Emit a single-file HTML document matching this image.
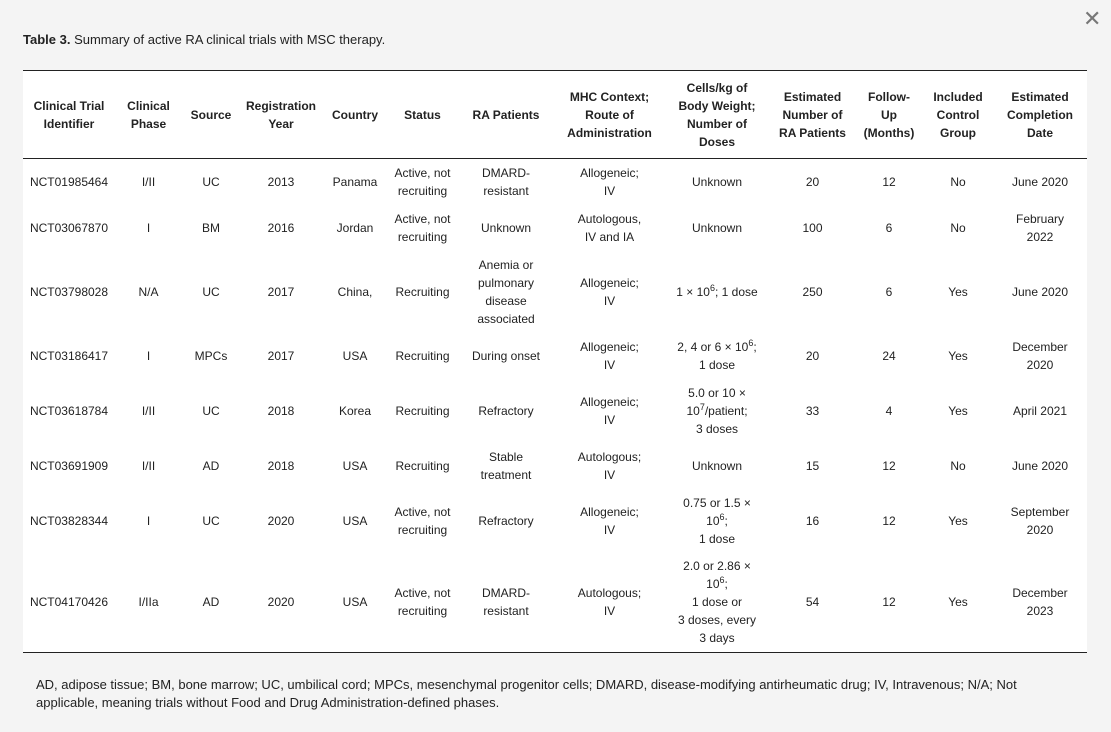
<!DOCTYPE html>
<html><head><meta charset="utf-8"><style>
body{margin:0;width:1111px;height:732px;background:#f4f4f4;font-family:"Liberation Sans",Arial,sans-serif;color:#222;position:relative;overflow:hidden}
.x{position:absolute;left:1083px;top:6px;font-size:22px;color:#777}
.title{position:absolute;left:23px;top:32px;font-size:13px}
table{position:absolute;left:23px;top:70px;width:1064px;border-collapse:collapse;background:#fff;font-size:12px;line-height:18px;table-layout:fixed}
th{font-weight:bold;border-top:1px solid #222;border-bottom:1px solid #222;height:87px;padding:0 2px;text-align:center;vertical-align:middle}
td{text-align:center;vertical-align:middle;padding:0 4px}
tr:last-child td{border-bottom:1px solid #222}
sup{font-size:9px;line-height:0;vertical-align:5px}
.foot{position:absolute;left:36px;top:676px;width:1030px;font-size:13px;line-height:18px}
</style></head><body>
<div class="x">✕</div>
<div class="title"><b>Table 3.</b> Summary of active RA clinical trials with MSC therapy.</div>
<table>
<colgroup><col style="width:92px"><col style="width:67px"><col style="width:58px"><col style="width:82px"><col style="width:66px"><col style="width:69px"><col style="width:98px"><col style="width:109px"><col style="width:106px"><col style="width:85px"><col style="width:68px"><col style="width:70px"><col style="width:94px"></colgroup>
<tr><th>Clinical Trial<br>Identifier</th><th>Clinical<br>Phase</th><th>Source</th><th>Registration<br>Year</th><th>Country</th><th>Status</th><th>RA Patients</th><th>MHC Context;<br>Route of<br>Administration</th><th>Cells/kg of<br>Body Weight;<br>Number of<br>Doses</th><th>Estimated<br>Number of<br>RA Patients</th><th>Follow-<br>Up<br>(Months)</th><th>Included<br>Control<br>Group</th><th>Estimated<br>Completion<br>Date</th></tr>
<tr style="height:46px"><td>NCT01985464</td><td>I/II</td><td>UC</td><td>2013</td><td>Panama</td><td>Active, not recruiting</td><td>DMARD-resistant</td><td>Allogeneic;<br>IV</td><td>Unknown</td><td>20</td><td>12</td><td>No</td><td>June 2020</td></tr>
<tr style="height:46px"><td>NCT03067870</td><td>I</td><td>BM</td><td>2016</td><td>Jordan</td><td>Active, not recruiting</td><td>Unknown</td><td>Autologous,<br>IV and IA</td><td>Unknown</td><td>100</td><td>6</td><td>No</td><td>February<br>2022</td></tr>
<tr style="height:82px"><td>NCT03798028</td><td>N/A</td><td>UC</td><td>2017</td><td>China,</td><td>Recruiting</td><td>Anemia or pulmonary disease associated</td><td>Allogeneic;<br>IV</td><td>1 × 10<sup>6</sup>; 1 dose</td><td>250</td><td>6</td><td>Yes</td><td>June 2020</td></tr>
<tr style="height:46px"><td>NCT03186417</td><td>I</td><td>MPCs</td><td>2017</td><td>USA</td><td>Recruiting</td><td>During onset</td><td>Allogeneic;<br>IV</td><td>2, 4 or 6 × 10<sup>6</sup>;<br>1 dose</td><td>20</td><td>24</td><td>Yes</td><td>December<br>2020</td></tr>
<tr style="height:64px"><td>NCT03618784</td><td>I/II</td><td>UC</td><td>2018</td><td>Korea</td><td>Recruiting</td><td>Refractory</td><td>Allogeneic;<br>IV</td><td>5.0 or 10 ×<br>10<sup>7</sup>/patient;<br>3 doses</td><td>33</td><td>4</td><td>Yes</td><td>April 2021</td></tr>
<tr style="height:46px"><td>NCT03691909</td><td>I/II</td><td>AD</td><td>2018</td><td>USA</td><td>Recruiting</td><td>Stable<br>treatment</td><td>Autologous;<br>IV</td><td>Unknown</td><td>15</td><td>12</td><td>No</td><td>June 2020</td></tr>
<tr style="height:64px"><td>NCT03828344</td><td>I</td><td>UC</td><td>2020</td><td>USA</td><td>Active, not recruiting</td><td>Refractory</td><td>Allogeneic;<br>IV</td><td>0.75 or 1.5 ×<br>10<sup>6</sup>;<br>1 dose</td><td>16</td><td>12</td><td>Yes</td><td>September<br>2020</td></tr>
<tr style="height:100px"><td>NCT04170426</td><td>I/IIa</td><td>AD</td><td>2020</td><td>USA</td><td>Active, not recruiting</td><td>DMARD-<br>resistant</td><td>Autologous;<br>IV</td><td>2.0 or 2.86 ×<br>10<sup>6</sup>;<br>1 dose or<br>3 doses, every<br>3 days</td><td>54</td><td>12</td><td>Yes</td><td>December<br>2023</td></tr>
</table>
<div class="foot">AD, adipose tissue; BM, bone marrow; UC, umbilical cord; MPCs, mesenchymal progenitor cells; DMARD, disease-modifying antirheumatic drug; IV, Intravenous; N/A; Not applicable, meaning trials without Food and Drug Administration-defined phases.</div>
</body></html>
